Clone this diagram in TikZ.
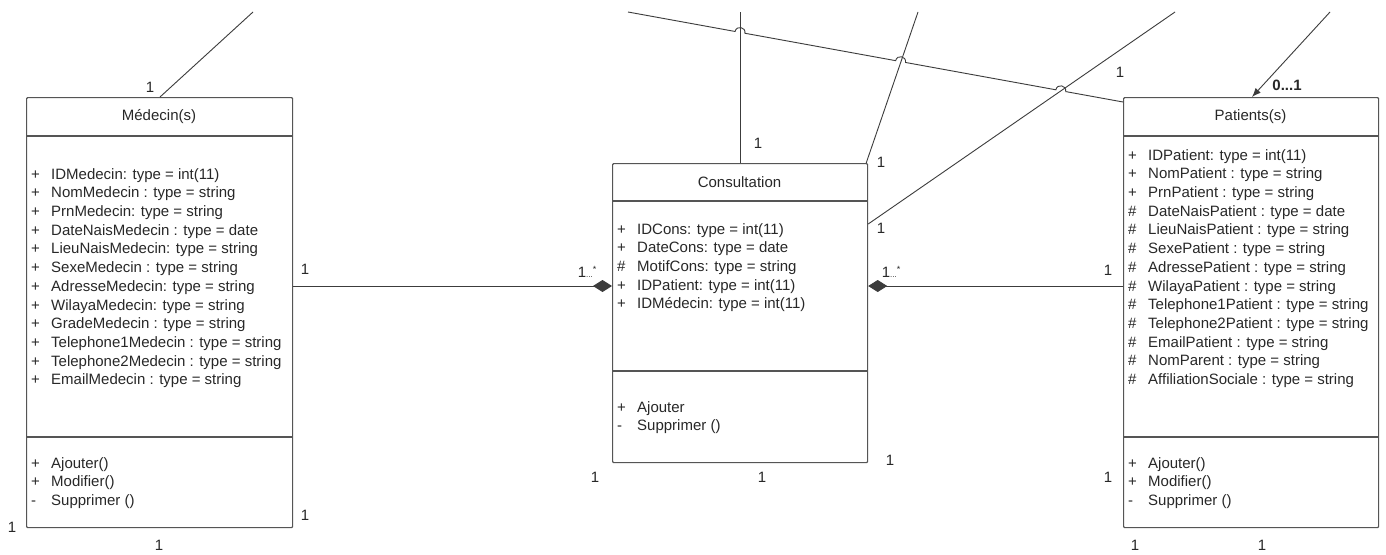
\documentclass[tikz,border=0pt]{standalone}
\usepackage{fontspec}
\setmainfont{Liberation Sans}
\usetikzlibrary{arrows.meta,calc}
\definecolor{linec}{RGB}{60,60,60}
\definecolor{boxc}{RGB}{85,85,85}
\definecolor{txt}{RGB}{40,40,40}
\newcommand{\fsz}{\fontsize{15}{18.7}\selectfont}
\newcommand{\mult}{1{\fontsize{8}{8}\selectfont...}\raisebox{5pt}{\fontsize{9}{9}\selectfont *}}
\begin{document}
\begin{tikzpicture}[x=1pt,y=-1pt,
  classbox/.style={draw=boxc, line width=1.2pt, rounded corners=1pt, anchor=north west, inner sep=0pt},
  divider/.style={draw=boxc, line width=1.2pt},
  ctitle/.style={font=\fsz, text=txt, inner sep=0pt},
  members/.style={anchor=north west, inner sep=0pt, font=\fsz, text=txt},
  lbl/.style={font=\fsz, text=txt, inner sep=0pt},
  conn/.style={draw=linec, line width=0.9pt},
  comp/.style={-{Diamond[length=19pt,width=12pt]}, fill=black},
  compback/.style={{Diamond[length=19pt,width=12pt]}-, fill=black},
  navi/.style={-{Latex[length=9pt,width=7pt]}}
]
\useasboundingbox[fill=white] (0,0) rectangle (1386,554);

% ---------- Medecin ----------
\node[classbox, minimum width=266pt, minimum height=430pt] (med) at (26,97) {};
\draw[divider] (26,136) -- (292,136);
\draw[divider] (26,437) -- (292,437);
\node[ctitle] (medt) at (159,116.5) {Médecin(s)};
\node[members] (meda) at (31,165.9) {\begin{tabular}{@{}p{20pt}@{}l@{}}
+ & IDMedecin: type = int(11)\\
+ & NomMedecin : type = string\\
+ & PrnMedecin: type = string\\
+ & DateNaisMedecin : type = date\\
+ & LieuNaisMedecin: type = string\\
+ & SexeMedecin : type = string\\
+ & AdresseMedecin: type = string\\
+ & WilayaMedecin: type = string\\
+ & GradeMedecin : type = string\\
+ & Telephone1Medecin : type = string\\
+ & Telephone2Medecin : type = string\\
+ & EmailMedecin : type = string
\end{tabular}};
\node[members] (medm) at (31,454.9) {\begin{tabular}{@{}p{20pt}@{}l@{}}
+ & Ajouter()\\
+ & Modifier()\\
- & Supprimer ()
\end{tabular}};

% ---------- Consultation ----------
\node[classbox, minimum width=255pt, minimum height=299pt] (cons) at (612,163) {};
\draw[divider] (612,201) -- (867,201);
\draw[divider] (612,371) -- (867,371);
\node[ctitle] (const) at (739.5,182) {Consultation};
\node[members] (consa) at (617,220.9) {\begin{tabular}{@{}p{20pt}@{}l@{}}
+ & IDCons: type = int(11)\\
+ & DateCons: type = date\\
\# & MotifCons: type = string\\
+ & IDPatient: type = int(11)\\
+ & IDMédecin: type = int(11)
\end{tabular}};
\node[members] (consm) at (617,398.9) {\begin{tabular}{@{}p{20pt}@{}l@{}}
+ & Ajouter\\
- & Supprimer ()
\end{tabular}};

% ---------- Patients ----------
\node[classbox, minimum width=255pt, minimum height=430pt] (pat) at (1123,97) {};
\draw[divider] (1123,136) -- (1378,136);
\draw[divider] (1123,437) -- (1378,437);
\node[ctitle] (patt) at (1250.5,116.5) {Patients(s)};
\node[members] (pata) at (1128,146.9) {\begin{tabular}{@{}p{20pt}@{}l@{}}
+ & IDPatient: type = int(11)\\
+ & NomPatient : type = string\\
+ & PrnPatient : type = string\\
\# & DateNaisPatient : type = date\\
\# & LieuNaisPatient : type = string\\
\# & SexePatient : type = string\\
\# & AdressePatient : type = string\\
\# & WilayaPatient : type = string\\
\# & Telephone1Patient : type = string\\
\# & Telephone2Patient : type = string\\
\# & EmailPatient : type = string\\
\# & NomParent : type = string\\
\# & AffiliationSociale : type = string
\end{tabular}};
\node[members] (patm) at (1128,454.9) {\begin{tabular}{@{}p{20pt}@{}l@{}}
+ & Ajouter()\\
+ & Modifier()\\
- & Supprimer ()
\end{tabular}};

% ---------- free ends ----------
\coordinate (e1) at (253,12);
\coordinate (e2) at (740,12);
\coordinate (e3) at (918,12);
\coordinate (e4) at (1175,12);
\coordinate (e5) at (1330,12);
\coordinate (lstart) at (628,12);

% ---------- connectors ----------
\draw[conn] ([xshift=134pt]med.north west) -- (e1);
\draw[conn,comp] ([yshift=-189pt]med.north east) -- ([yshift=-123pt]cons.north west);
\draw[conn] ([xshift=128pt]cons.north west) -- (e2);
\draw[conn] ([xshift=-2pt]cons.north east) -- (e3);
\draw[conn] ([yshift=-61pt]cons.north east) -- (e4);
\draw[conn,compback] ([yshift=-123pt]cons.north east) -- ([yshift=-189pt]pat.north west);
\draw[conn,navi] (e5) -- ([xshift=129pt]pat.north west);

% long line with hops
\coordinate (pend) at ([yshift=-5pt]pat.north west);
\coordinate (h1) at ($(lstart)!0.2263!(pend)$);
\coordinate (h2) at ($(lstart)!0.5507!(pend)$);
\coordinate (h3) at ($(lstart)!0.8743!(pend)$);
\coordinate (a1) at ($(h1)!5pt!(lstart)$);
\coordinate (b1) at ($(h1)!5pt!(pend)$);
\coordinate (a2) at ($(h2)!5pt!(lstart)$);
\coordinate (b2) at ($(h2)!5pt!(pend)$);
\coordinate (a3) at ($(h3)!5pt!(lstart)$);
\coordinate (b3) at ($(h3)!5pt!(pend)$);
\draw[conn] (lstart) -- (a1)
  .. controls ($(a1)!6.5pt!90:(h1)$) and ($(b1)!6.5pt!-90:(h1)$) .. (b1)
  -- (a2)
  .. controls ($(a2)!6.5pt!90:(h2)$) and ($(b2)!6.5pt!-90:(h2)$) .. (b2)
  -- (a3)
  .. controls ($(a3)!6.5pt!90:(h3)$) and ($(b3)!6.5pt!-90:(h3)$) .. (b3)
  -- (pend);

% ---------- multiplicities ----------
\node[lbl] (m1) at (150,87) {1};
\node[lbl] (m2) at (305,269) {1};
\node[lbl] (m3) at (305,515) {1};
\node[lbl] (m4) at (12,527) {1};
\node[lbl] (m5) at (159,545) {1};
\node[lbl] (m6) at (587,272) {\mult};
\node[lbl] (m7) at (758,143) {1};
\node[lbl] (m8) at (881,162) {1};
\node[lbl] (m9) at (881,228) {1};
\node[lbl] (m10) at (891,272) {\mult};
\node[lbl] (m11) at (1108,270) {1};
\node[lbl] (m12) at (1120,72) {1};
\node[lbl] (m13) at (1287,85) {\bfseries 0...1};
\node[lbl] (m14) at (595,477) {1};
\node[lbl] (m15) at (762,477) {1};
\node[lbl] (m16) at (890,460) {1};
\node[lbl] (m17) at (1108,477) {1};
\node[lbl] (m18) at (1135,545) {1};
\node[lbl] (m19) at (1262,545) {1};
\end{tikzpicture}
\end{document}
